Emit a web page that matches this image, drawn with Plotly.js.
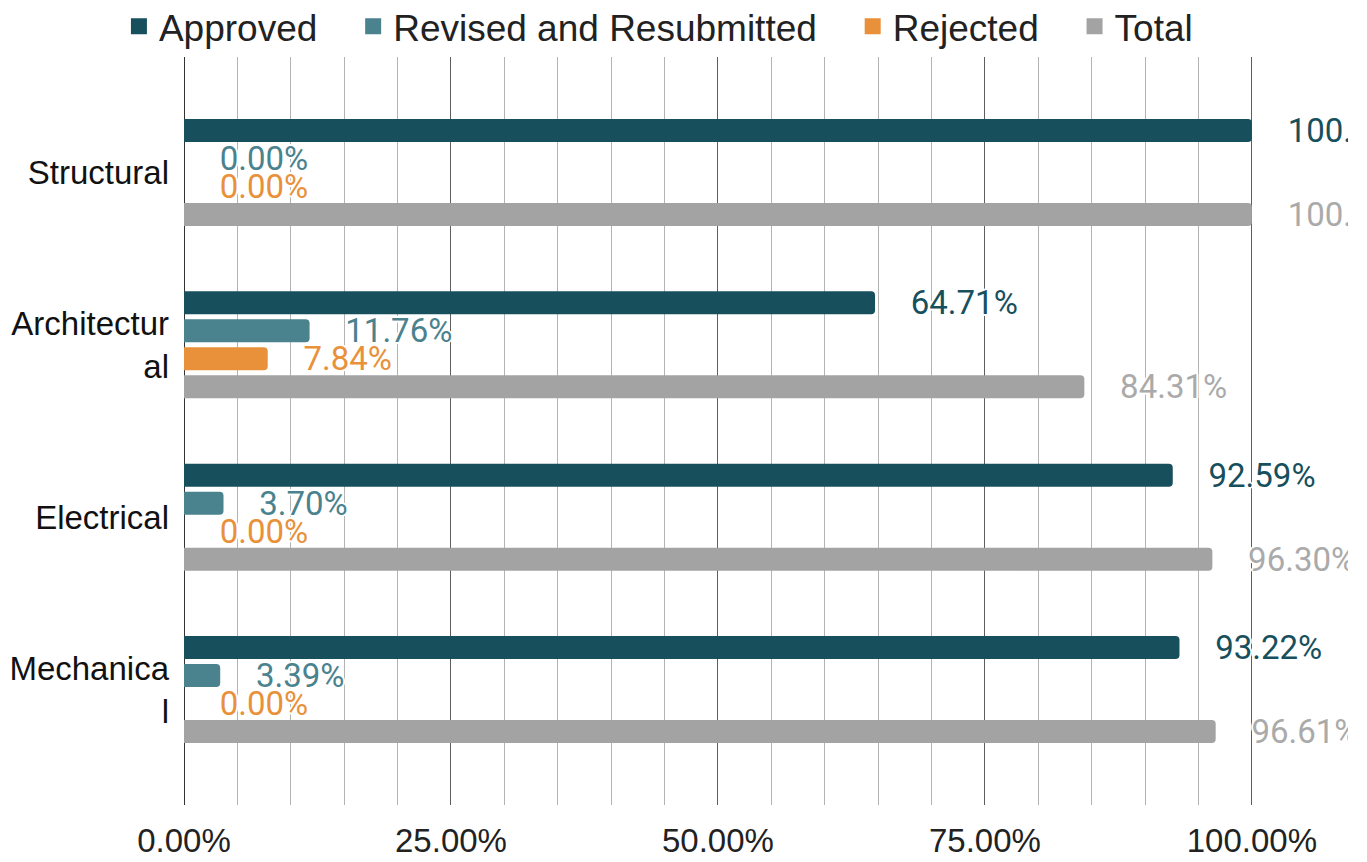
<!DOCTYPE html>
<html>
<head>
<meta charset="utf-8">
<script src="https://cdn.plot.ly/plotly-3.0.1.min.js"></script>
<style>
  html, body { margin: 0; padding: 0; background: #fff; }
  #chart { width: 1367px; height: 862px; }
</style>
</head>
<body>
<div id="chart"></div>
<script>
// ---- data ----
var categories = ['Structural', 'Architectural', 'Electrical', 'Mechanical'];
var categoryLabels = ['Structural', 'Architectur<br>al', 'Electrical', 'Mechanica<br>l'];
var seriesNames = ['Approved', 'Revised and Resubmitted', 'Rejected', 'Total'];
var approved = [100.00, 64.71, 92.59, 93.22];
var revised = [0.00, 11.76, 3.70, 3.39];
var rejected = [0.00, 7.84, 0.00, 0.00];
var total = [100.00, 84.31, 96.30, 96.61];
var xTickValues = [0, 25, 50, 75, 100];
var xTickLabels = ['0.00%', '25.00%', '50.00%', '75.00%', '100.00%'];
var xMinorValues = [5, 10, 15, 20, 30, 35, 40, 45, 55, 60, 65, 70, 80, 85, 90, 95];

// ---- styles ----
var colors = ['#174f5d', '#4a828e', '#e8913a', '#a3a3a3'];
var labelColors = ['#174f5d', '#4a828e', '#e8913a', '#aaaaaa'];
var seriesValues = [approved, revised, rejected, total];
var halo = '1px 1px 0 #fff, -1px -1px 0 #fff, 1px -1px 0 #fff, -1px 1px 0 #fff, 2px 0 0 #fff, -2px 0 0 #fff, 0 2px 0 #fff, 0 -2px 0 #fff';
var pad = '\u00a0\u00a0\u00a0\u00a0';
var axisFont = 'Liberation Sans, Arial, sans-serif';

var traces = [];
seriesValues.forEach(function (vals, i) {
  traces.push({
    type: 'bar',
    orientation: 'h',
    name: seriesNames[i],
    y: categories,
    x: vals,
    marker: { color: colors[i], line: { width: 0 } },
    texttemplate: pad + '%{x:.2f}%',
    textposition: 'outside',
    constraintext: 'none',
    cliponaxis: true,
    outsidetextfont: { family: 'Roboto, sans-serif', size: 33, color: labelColors[i], shadow: halo },
    showlegend: false,
    hoverinfo: 'skip'
  });
});
// legend entries with larger square symbols
seriesNames.forEach(function (n, i) {
  traces.push({
    type: 'scatter',
    mode: 'markers',
    name: n + '\u00a0\u00a0\u00a0',
    x: [null],
    y: [null],
    marker: { symbol: 'square', size: 16, color: colors[i] },
    showlegend: true,
    hoverinfo: 'skip'
  });
});

var layout = {
  width: 1367,
  height: 862,
  margin: { l: 184, r: 19, t: 57, b: 57, pad: 0, autoexpand: false },
  paper_bgcolor: '#ffffff',
  plot_bgcolor: '#ffffff',
  font: { family: axisFont, size: 33, color: '#222222' },
  barmode: 'group',
  bargap: 0.35,
  bargroupgap: 0.18,
  barcornerradius: 4,
  showlegend: true,
  legend: {
    orientation: 'h',
    xref: 'container',
    yref: 'container',
    x: 0.087,
    xanchor: 'left',
    y: 0.969,
    yanchor: 'middle',
    font: { family: axisFont, size: 37, color: '#222222' },
    bgcolor: 'rgba(0,0,0,0)',
    borderwidth: 0
  },
  xaxis: {
    range: [0, 109],
    tickmode: 'array',
    tickvals: xTickValues,
    ticktext: xTickLabels,
    ticks: '',
    ticklabelstandoff: 13,
    showgrid: true,
    gridcolor: '#5e5e5e',
    gridwidth: 1,
    minor: { tickmode: 'array', tickvals: xMinorValues, showgrid: true, gridcolor: '#b3b3b3', gridwidth: 1, ticks: '' },
    zeroline: true,
    zerolinecolor: '#333333',
    zerolinewidth: 1,
    showline: false,
    tickfont: { family: axisFont, size: 33, color: '#222222' },
    fixedrange: true
  },
  yaxis: {
    type: 'category',
    range: [3.67, -0.67],
    tickmode: 'array',
    tickvals: categories,
    ticktext: categoryLabels,
    ticks: '',
    ticklabelstandoff: 14,
    showgrid: false,
    zeroline: false,
    showline: false,
    tickfont: { family: axisFont, size: 33, color: '#111111' },
    fixedrange: true
  }
};

Plotly.newPlot('chart', traces, layout, { displayModeBar: false, staticPlot: true });
</script>
</body>
</html>
